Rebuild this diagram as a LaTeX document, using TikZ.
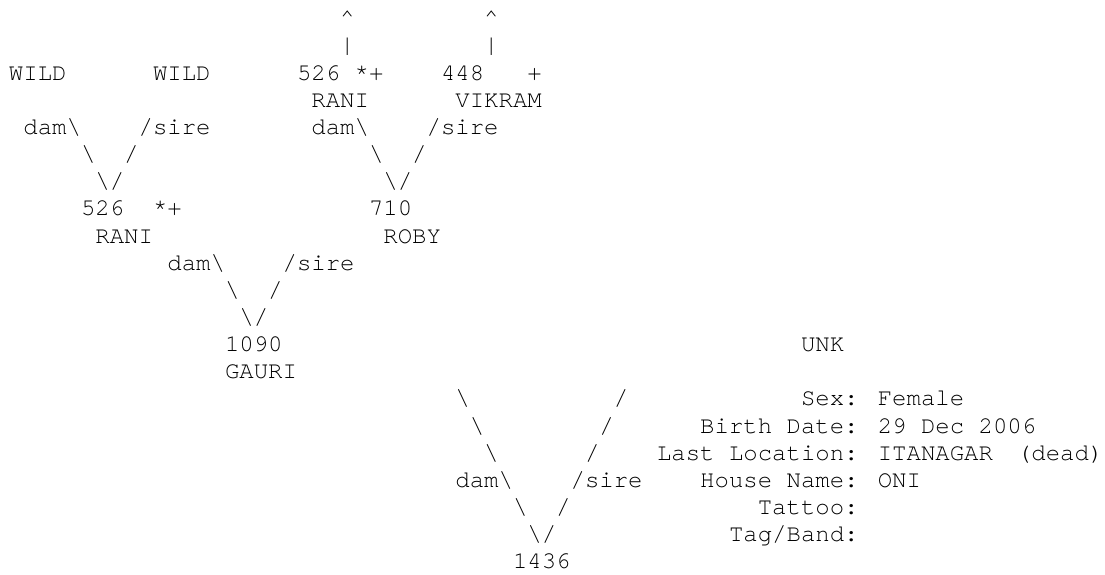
\documentclass[tikz,border=0pt]{standalone}
\usepackage{fontspec}
\usepackage{tikz}
\newfontfamily\pedfont{TeX Gyre Cursor}
\tikzset{
  txt/.style={font=\pedfont\fontsize{12pt}{13.575pt}\selectfont,
    anchor=base west,inner sep=0pt,outer sep=0pt,text=black},
}
\newcommand{\bs}{\textbackslash}

\begin{document}
\begin{tikzpicture}[x=7.2pt,y=-13.575pt]
  \useasboundingbox (-4.5pt,12.9pt) rectangle (548pt,-274.1pt);
  % top generation
  \node[txt] (upD) at (23,0) {\textasciicircum};
  \node[txt] (upS) at (33,0) {\textasciicircum};
  \node[txt] (barD) at (23,1) {|};
  \node[txt] (barS) at (33,1) {|};
  \node[txt] (wildD) at (0,2) {WILD};
  \node[txt] (wildS) at (10,2) {WILD};
  \node[txt] (n526t) at (20,2) {526};
  \node[txt] (f526t) at (24,2) {*+};
  \node[txt] (n448) at (30,2) {448};
  \node[txt] (f448) at (36,2) {+};
  \node[txt] (raniT) at (21,3) {RANI};
  \node[txt] (vikram) at (31,3) {VIKRAM};
  \node[txt] (damA) at (1,4) {dam\bs};
  \node[txt] (sireA) at (9,4) {/sire};
  \node[txt] (damB) at (21,4) {dam\bs};
  \node[txt] (sireB) at (29,4) {/sire};
  \node[txt] (a1) at (5,5) {\bs};  \node[txt] (a2) at (8,5) {/};
  \node[txt] (b1) at (25,5) {\bs}; \node[txt] (b2) at (28,5) {/};
  \node[txt] (a3) at (6,6) {\bs/};
  \node[txt] (b3) at (26,6) {\bs/};
  % parents of 1090
  \node[txt] (n526) at (5,7) {526};
  \node[txt] (f526) at (10,7) {*+};
  \node[txt] (n710) at (25,7) {710};
  \node[txt] (rani) at (6,8) {RANI};
  \node[txt] (roby) at (26,8) {ROBY};
  \node[txt] (damC) at (11,9) {dam\bs};
  \node[txt] (sireC) at (19,9) {/sire};
  \node[txt] (c1) at (15,10) {\bs}; \node[txt] (c2) at (18,10) {/};
  \node[txt] (c3) at (16,11) {\bs/};
  % parents of 1436
  \node[txt] (n1090) at (15,12) {1090};
  \node[txt] (unk) at (55,12) {UNK};
  \node[txt] (gauri) at (15,13) {GAURI};
  \node[txt] (d1) at (31,14) {\bs}; \node[txt] (e1) at (42,14) {/};
  \node[txt] (d2) at (32,15) {\bs}; \node[txt] (e2) at (41,15) {/};
  \node[txt] (d3) at (33,16) {\bs}; \node[txt] (e3) at (40,16) {/};
  \node[txt] (damD) at (31,17) {dam\bs};
  \node[txt] (sireD) at (39,17) {/sire};
  \node[txt] (d4) at (35,18) {\bs}; \node[txt] (e4) at (38,18) {/};
  \node[txt] (d5) at (36,19) {\bs/};
  \node[txt] (n1436) at (35,20) {1436};
  % record of 1436
  \node[txt] (sex) at (55,14) {Sex: Female};
  \node[txt] (birth) at (48,15) {Birth Date: 29 Dec 2006};
  \node[txt] (loc) at (45,16) {Last Location: ITANAGAR};
  \node[txt] (dead) at (70,16) {(dead)};
  \node[txt] (house) at (48,17) {House Name: ONI};
  \node[txt] (tattoo) at (52,18) {Tattoo:};
  \node[txt] (tag) at (50,19) {Tag/Band:};
\end{tikzpicture}
\end{document}
